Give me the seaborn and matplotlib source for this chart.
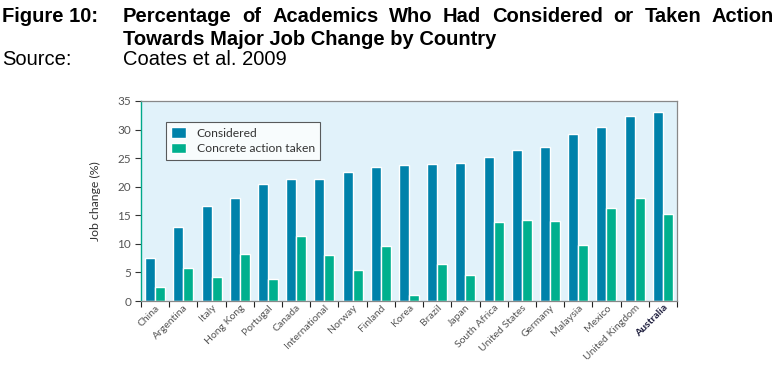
import pandas as pd
import numpy as np
import matplotlib
matplotlib.use('Agg')
import matplotlib.pyplot as plt
import seaborn as sns

countries = ['China', 'Argentina', 'Italy', 'Hong Kong', 'Portugal', 'Canada',
             'International', 'Norway', 'Finland', 'Korea', 'Brazil', 'Japan',
             'South Africa', 'United States', 'Germany', 'Malaysia', 'Mexico',
             'United Kingdom', 'Australia']
considered = [7.6, 12.9, 16.6, 18.1, 20.4, 21.3, 21.3, 22.6, 23.4, 23.8, 23.9,
              24.1, 25.2, 26.5, 27.0, 29.2, 30.4, 32.4, 33.0]
action = [2.4, 5.8, 4.2, 8.2, 3.8, 11.4, 8.0, 5.4, 9.6, 1.1, 6.4, 4.6, 13.8,
          14.1, 14.0, 9.8, 16.3, 18.0, 15.2]
series = ['Considered', 'Concrete action taken']

df = pd.DataFrame({'Country': countries * 2,
                   'Series': [series[0]] * len(countries) + [series[1]] * len(countries),
                   'Value': considered + action})

sns.set_style('white')
plt.rcParams['font.family'] = ['Lato', 'DejaVu Sans']

fig = plt.figure(figsize=(7.77, 3.65), dpi=100)
ax = fig.add_axes([0.1815, 0.1753, 0.6898, 0.548])
ax.set_facecolor('#E1F2FA')

sns.barplot(data=df, x='Country', y='Value', hue='Series', order=countries,
            hue_order=series, palette=['#0082AA', '#00B08E'], width=0.71,
            saturation=1, ax=ax)

ax.set_ylim(0, 35)
ax.set_xlim(-0.5, len(countries) - 0.5)
ax.set_yticks(range(0, 36, 5))
ax.tick_params(axis='y', labelsize=8.5, labelcolor='#555555', color='#333333',
               length=4, width=0.8, direction='out', left=True, pad=3)
ax.set_xticks(range(len(countries)))
ax.set_xticklabels(countries, rotation=45, ha='right', rotation_mode='anchor',
                   fontsize=7.5, color='#555555')
ax.tick_params(axis='x', which='major', length=0, pad=1.5)
ax.set_xticks(np.arange(-0.5, len(countries), 1), minor=True)
ax.tick_params(axis='x', which='minor', length=4, width=0.8, color='#222222',
               direction='out', bottom=True)
for lbl in ax.get_xticklabels():
    if lbl.get_text() == 'Australia':
        lbl.set_fontweight('bold')
        lbl.set_color('#1a1a3a')

ax.set_xlabel('')
ax.set_ylabel('Job change (%)', fontsize=8.8, color='#333333', labelpad=12)

for side in ['top', 'right', 'bottom']:
    ax.spines[side].set_color('#888888')
    ax.spines[side].set_linewidth(0.9)
ax.spines['left'].set_color('#00A88A')
ax.spines['left'].set_linewidth(1.0)

leg = ax.legend(loc='upper left', bbox_to_anchor=(0.035, 0.925), fontsize=8.7,
                frameon=True, fancybox=False, edgecolor='#333333',
                borderpad=0.45, handlelength=1.2, handleheight=0.9,
                labelspacing=0.35, handletextpad=0.9)
leg.get_frame().set_linewidth(0.8)
leg.get_frame().set_facecolor('white')
for t in leg.get_texts():
    t.set_color('#333333')

# title block, first line justified like the source document
tfont = dict(family=['Liberation Sans', 'DejaVu Sans'], fontsize=14.5, color='black',
             va='baseline')
fig.text(0.003, 0.939, 'Figure 10:', fontweight='bold', **tfont)
fig.text(0.158, 0.877, 'Towards Major Job Change by Country', fontweight='bold', **tfont)
fig.text(0.003, 0.823, 'Source:', **tfont)
fig.text(0.158, 0.823, 'Coates et al. 2009', **tfont)

words = 'Percentage of Academics Who Had Considered or Taken Action'.split()
renderer = fig.canvas.get_renderer()
x0, x1 = 123, 774
texts = [fig.text(0, 0.939, w, fontweight='bold', **tfont) for w in words]
widths = [t.get_window_extent(renderer).width for t in texts]
gap = (x1 - x0 - sum(widths)) / (len(words) - 1)
x = x0
for t, w in zip(texts, widths):
    t.set_x(x / 777)
    x += w + gap

fig.savefig('out.png', dpi=100)
